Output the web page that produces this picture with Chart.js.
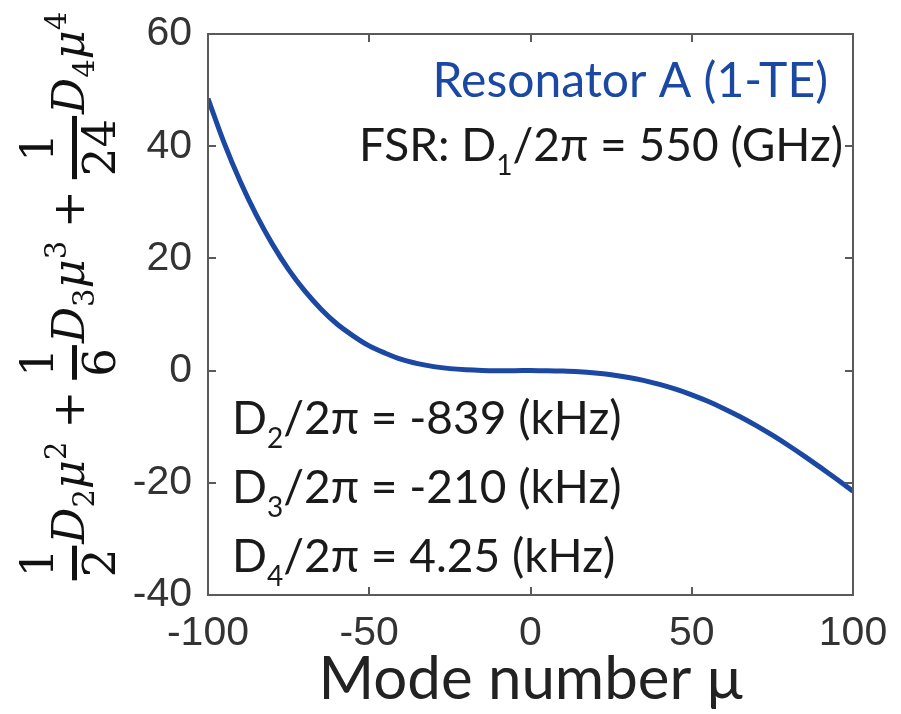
<!DOCTYPE html>
<html>
<head>
<meta charset="utf-8">
<script src="https://cdn.jsdelivr.net/npm/chart.js@4.4.1/dist/chart.umd.min.js"></script>
<style>
  html, body { margin: 0; padding: 0; background: #fff; }
  canvas { display: block; }
</style>
</head>
<body>
<canvas id="chart" width="901" height="714"></canvas>
<script>
// integrated dispersion (GHz)
const modeNumbers = [-100, -95, -90, -85, -80, -75, -70, -65, -60, -55, -50, -45, -40, -35, -30, -25, -20, -15, -10, -5,
  0, 5, 10, 15, 20, 25, 30, 35, 40, 45, 50, 55, 60, 65, 70, 75, 80, 85, 90, 95, 100];
const dintValues = [48.5, 40.6, 33.7, 27.7, 22.5, 18.0, 14.2, 11.0, 8.3, 6.2, 4.4, 3.1, 2.0, 1.25, 0.71, 0.35, 0.14, 0.03, -0.01, -0.01,
  0, -0.02, -0.08, -0.2, -0.42, -0.74, -1.18, -1.75, -2.46, -3.31, -4.32, -5.47, -6.78, -8.22, -9.81, -11.52, -13.35, -15.28, -17.3, -19.37, -21.49];
const xTicks = [-100, -50, 0, 50, 100];
const yTicks = [-40, -20, 0, 20, 40, 60];

const xTitle = 'Mode number μ';
const resonatorLabel = 'Resonator A (1-TE)';
// [text, isSubscript]
const fsrLabel = [['FSR: D', false], ['1', true], ['/2π = 550 (GHz)', false]];
const dispersionLabels = [
  [['D', false], ['2', true], ['/2π = -839 (kHz)', false]],
  [['D', false], ['3', true], ['/2π = -210 (kHz)', false]],
  [['D', false], ['4', true], ['/2π = 4.25 (kHz)', false]]
];
const yTitleTerms = [['1', '2', '2'], ['1', '6', '3'], ['1', '24', '4']]; // numerator, denominator, order

const BLUE = '#1b48a3';
const TEXT_FONT = 'Lato, "Open Sans", sans-serif';
const TICK_FONT = '"Liberation Sans", Arial, sans-serif';
const MATH_FONT = '"DejaVu Serif", serif';

function drawRich(ctx, runs, x, y, align, size, color) {
  const big = size + 'px ' + TEXT_FONT;
  const small = Math.round(size * 0.6) + 'px ' + TEXT_FONT;
  let w = 0;
  runs.forEach(([s, sub]) => { ctx.font = sub ? small : big; w += ctx.measureText(s).width; });
  let cx = align === 'right' ? x - w : x;
  ctx.fillStyle = color;
  ctx.textBaseline = 'alphabetic';
  ctx.textAlign = 'left';
  runs.forEach(([s, sub]) => {
    ctx.font = sub ? small : big;
    ctx.fillText(s, cx, sub ? y + size * 0.3 : y);
    cx += ctx.measureText(s).width;
  });
}

const framePlugin = {
  id: 'frame',
  afterDatasetsDraw(chart) {
    const { ctx, chartArea: a, scales: { x, y } } = chart;
    ctx.save();
    ctx.strokeStyle = '#5a5a5a';
    ctx.lineWidth = 2;
    ctx.strokeRect(a.left, a.top, a.right - a.left, a.bottom - a.top);
    ctx.beginPath();
    x.ticks.forEach(t => {
      const px = Math.round(x.getPixelForValue(t.value));
      ctx.moveTo(px, a.bottom); ctx.lineTo(px, a.bottom - 8);
      ctx.moveTo(px, a.top); ctx.lineTo(px, a.top + 8);
    });
    y.ticks.forEach(t => {
      const py = Math.round(y.getPixelForValue(t.value));
      ctx.moveTo(a.left, py); ctx.lineTo(a.left + 8, py);
      ctx.moveTo(a.right, py); ctx.lineTo(a.right - 8, py);
    });
    ctx.stroke();
    ctx.restore();
  }
};

const labelPlugin = {
  id: 'labels',
  afterDraw(chart) {
    const { ctx, chartArea: a } = chart;
    ctx.save();
    drawRich(ctx, [[resonatorLabel, false]], a.right - 25, 97, 'right', 48, BLUE);
    drawRich(ctx, fsrLabel, a.right - 10, 161, 'right', 46, '#1a1a1a');
    dispersionLabels.forEach((runs, i) => {
      drawRich(ctx, runs, a.left + 24, 434 + i * 69, 'left', 46, '#1a1a1a');
    });
    ctx.restore();
  }
};

// rotated math y-axis title
const yTitlePlugin = {
  id: 'yTitle',
  afterDraw(chart) {
    const ctx = chart.ctx;
    const size = 45;
    const rom = size + 'px ' + MATH_FONT;
    const ital = 'italic ' + size + 'px ' + MATH_FONT;
    const small = Math.round(size * 0.64) + 'px ' + MATH_FONT;
    const items = [];
    yTitleTerms.forEach(([n, d, k], i) => {
      if (i > 0) items.push({ type: 'op', s: '+' });
      items.push({ type: 'frac', n, d });
      items.push({ type: 'txt', s: 'D', f: ital });
      items.push({ type: 'sub', s: k });
      items.push({ type: 'txt', s: 'μ', f: ital });
      items.push({ type: 'sup', s: k });
    });
    const widthOf = it => {
      if (it.type === 'frac') {
        ctx.font = rom;
        return Math.max(ctx.measureText(it.n).width, ctx.measureText(it.d).width) + 10;
      }
      if (it.type === 'op') { ctx.font = rom; return ctx.measureText('+').width + 18; }
      ctx.font = it.type === 'txt' ? it.f : small;
      return ctx.measureText(it.s).width + (it.type === 'sup' ? 4 : 0);
    };
    const widths = items.map(widthOf);
    const total = widths.reduce((s, w) => s + w, 0);
    ctx.save();
    ctx.translate(84, 295);
    ctx.rotate(-Math.PI / 2);
    ctx.fillStyle = '#111';
    ctx.textBaseline = 'alphabetic';
    let u = -total / 2;
    items.forEach((it, i) => {
      const w = widths[i];
      if (it.type === 'frac') {
        ctx.font = rom;
        ctx.textAlign = 'center';
        ctx.fillText(it.n, u + w / 2, -31);
        ctx.fillText(it.d, u + w / 2, 31);
        ctx.fillRect(u + 2, -12, w - 4, 5);
      } else if (it.type === 'op') {
        ctx.font = rom;
        ctx.textAlign = 'center';
        ctx.fillText('+', u + w / 2, 0);
      } else {
        ctx.textAlign = 'left';
        ctx.font = it.type === 'txt' ? it.f : small;
        const v = it.type === 'sub' ? 10 : it.type === 'sup' ? -18 : 0;
        ctx.fillText(it.s, u, v);
      }
      u += w;
    });
    ctx.restore();
  }
};

new Chart(document.getElementById('chart'), {
  type: 'line',
  data: {
    datasets: [{
      data: modeNumbers.map((m, i) => ({ x: m, y: dintValues[i] })),
      borderColor: BLUE,
      borderWidth: 5,
      pointRadius: 0,
      tension: 0.35,
      fill: false
    }]
  },
  options: {
    responsive: false,
    animation: false,
    devicePixelRatio: 1,
    layout: { padding: { top: 34, right: 48, left: 0, bottom: 0 } },
    plugins: { legend: { display: false }, tooltip: { enabled: false } },
    scales: {
      x: {
        type: 'linear',
        min: -100, max: 100,
        afterBuildTicks: s => { s.ticks = xTicks.map(v => ({ value: v })); },
        afterFit: s => { s.height = 119; },
        ticks: { font: { family: TICK_FONT, size: 41 }, color: '#333', padding: 6, maxRotation: 0, autoSkip: false },
        grid: { display: false },
        border: { display: false },
        title: { display: true, text: xTitle, font: { family: TEXT_FONT, size: 60 }, color: '#222', padding: { top: 0, bottom: -2 } }
      },
      y: {
        type: 'linear',
        min: -40, max: 60,
        afterBuildTicks: s => { s.ticks = yTicks.map(v => ({ value: v })); },
        afterFit: s => { s.width = 208; },
        ticks: { font: { family: TICK_FONT, size: 41 }, color: '#333', padding: 8, autoSkip: false },
        grid: { display: false },
        border: { display: false }
      }
    }
  },
  plugins: [framePlugin, labelPlugin, yTitlePlugin]
});
</script>
</body>
</html>
